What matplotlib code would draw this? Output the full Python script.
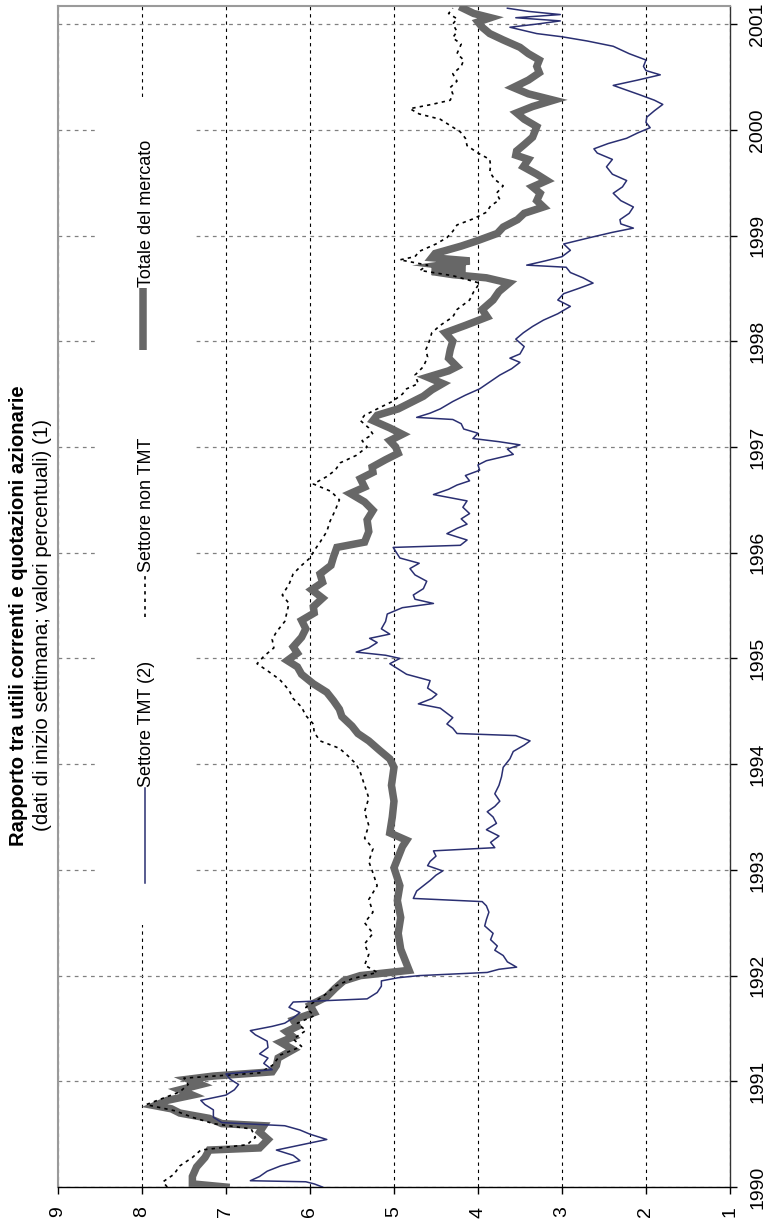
import matplotlib
matplotlib.use("Agg")
import matplotlib.pyplot as plt
from matplotlib.lines import Line2D
from matplotlib.patches import Rectangle

plt.rcParams['font.family'] = ['Liberation Sans', 'DejaVu Sans']
narrow = ['Liberation Sans Narrow', 'Liberation Sans']

# --- data (decimal years, percent values) ---
tot_t = [1990.00, 1990.03, 1990.10, 1990.19, 1990.28, 1990.35, 1990.37, 1990.45, 1990.52, 1990.58,
         1990.60, 1990.65, 1990.70, 1990.74, 1990.77, 1990.82, 1990.87, 1990.92, 1990.97, 1991.02,
         1991.05, 1991.09, 1991.15, 1991.22, 1991.30, 1991.37, 1991.42, 1991.47, 1991.52, 1991.58,
         1991.65, 1991.72, 1991.80, 1991.88, 1991.95, 1992.00, 1992.05, 1992.15, 1992.25, 1992.40,
         1992.55, 1992.71, 1992.85, 1993.02, 1993.12, 1993.22, 1993.28, 1993.35, 1993.50, 1993.65,
         1993.80, 1993.97, 1994.05, 1994.13, 1994.22, 1994.29, 1994.36, 1994.45, 1994.52, 1994.60,
         1994.68, 1994.76, 1994.85, 1994.92, 1994.98, 1995.05, 1995.11, 1995.20, 1995.28, 1995.36,
         1995.43, 1995.49, 1995.57, 1995.65, 1995.72, 1995.80, 1995.88, 1995.96, 1996.05, 1996.10,
         1996.20, 1996.31, 1996.40, 1996.48, 1996.56, 1996.62, 1996.70, 1996.76, 1996.81, 1996.88,
         1996.94, 1997.00, 1997.06, 1997.12, 1997.18, 1997.25, 1997.30, 1997.36, 1997.42, 1997.48,
         1997.54, 1997.60, 1997.66, 1997.72, 1997.76, 1997.84, 1997.92, 1998.00, 1998.08, 1998.15,
         1998.23, 1998.30, 1998.39, 1998.47, 1998.55, 1998.60, 1998.63, 1998.66, 1998.69, 1998.72,
         1998.76, 1998.79, 1998.83, 1998.90, 1998.95, 1999.02, 1999.08, 1999.15, 1999.21, 1999.27,
         1999.33, 1999.40, 1999.46, 1999.52, 1999.58, 1999.65, 1999.72, 1999.76, 1999.80, 1999.86,
         1999.93, 2000.03, 2000.10, 2000.16, 2000.22, 2000.28, 2000.34, 2000.40, 2000.47, 2000.54,
         2000.60, 2000.66, 2000.72, 2000.78, 2000.85, 2000.91, 2000.97, 2001.02, 2001.06, 2001.10,
         2001.15]
tot_v = [7.00, 7.40, 7.40, 7.35, 7.25, 7.20, 6.60, 6.50, 6.60, 6.55,
         7.05, 7.20, 7.55, 7.65, 7.85, 7.70, 7.40, 7.55, 7.30, 7.45,
         7.15, 6.45, 6.40, 6.38, 6.20, 6.35, 6.20, 6.28, 6.15, 6.20,
         5.95, 6.00, 5.80, 5.70, 5.60, 5.40, 4.82, 4.87, 4.92, 4.95,
         4.92, 4.96, 4.93, 5.00, 4.95, 4.90, 4.85, 5.05, 5.02, 5.00,
         5.03, 5.00, 5.05, 5.17, 5.30, 5.43, 5.50, 5.62, 5.65, 5.72,
         5.80, 5.96, 6.10, 6.15, 6.27, 6.15, 6.20, 6.10, 6.05, 6.10,
         5.95, 5.96, 5.85, 5.98, 5.85, 5.88, 5.75, 5.72, 5.68, 5.35,
         5.30, 5.32, 5.25, 5.35, 5.52, 5.35, 5.40, 5.25, 5.26, 5.10,
         4.95, 4.98, 5.05, 4.90, 5.05, 5.25, 5.20, 4.95, 4.80, 4.65,
         4.55, 4.42, 4.60, 4.35, 4.25, 4.35, 4.33, 4.30, 4.39, 4.15,
         3.89, 3.95, 3.82, 3.75, 3.63, 3.90, 4.30, 4.55, 4.15, 4.45,
         4.10, 4.55, 4.51, 4.20, 4.01, 3.77, 3.70, 3.53, 3.45, 3.22,
         3.30, 3.26, 3.35, 3.18, 3.30, 3.46, 3.40, 3.55, 3.54, 3.45,
         3.35, 3.30, 3.45, 3.54, 3.35, 3.10, 3.40, 3.58, 3.40, 3.27,
         3.30, 3.27, 3.40, 3.50, 3.70, 3.86, 3.95, 4.00, 3.85, 4.05,
         4.18]

non_t = [1990.00, 1990.05, 1990.12, 1990.20, 1990.28, 1990.35, 1990.40, 1990.47, 1990.55, 1990.60,
         1990.66, 1990.72, 1990.78, 1990.84, 1990.90, 1990.97, 1991.03, 1991.08, 1991.15, 1991.25,
         1991.33, 1991.40, 1991.48, 1991.55, 1991.62, 1991.70, 1991.80, 1991.90, 1991.97, 1992.03,
         1992.10, 1992.20, 1992.30, 1992.40, 1992.50, 1992.60, 1992.72, 1992.85, 1992.97, 1993.08,
         1993.20, 1993.30, 1993.42, 1993.55, 1993.68, 1993.80, 1993.92, 1994.00, 1994.08, 1994.15,
         1994.22, 1994.30, 1994.38, 1994.46, 1994.54, 1994.62, 1994.70, 1994.80, 1994.88, 1994.95,
         1995.02, 1995.10, 1995.18, 1995.25, 1995.35, 1995.45, 1995.52, 1995.60, 1995.70, 1995.80,
         1995.88, 1995.95, 1996.02, 1996.10, 1996.20, 1996.30, 1996.40, 1996.50, 1996.58, 1996.65,
         1996.72, 1996.78, 1996.85, 1996.92, 1997.00, 1997.06, 1997.12, 1997.18, 1997.25, 1997.30,
         1997.38, 1997.43, 1997.50, 1997.55, 1997.60, 1997.68, 1997.76, 1997.85, 1997.92, 1998.00,
         1998.08, 1998.15, 1998.23, 1998.30, 1998.39, 1998.47, 1998.55, 1998.62, 1998.67, 1998.72,
         1998.77, 1998.80, 1998.85, 1998.92, 1998.98, 1999.04, 1999.10, 1999.16, 1999.22, 1999.28,
         1999.34, 1999.40, 1999.47, 1999.53, 1999.60, 1999.66, 1999.72, 1999.78, 1999.85, 1999.92,
         1999.98, 2000.05, 2000.10, 2000.15, 2000.20, 2000.24, 2000.28, 2000.34, 2000.40, 2000.46,
         2000.53, 2000.60, 2000.66, 2000.72, 2000.81, 2000.87, 2000.93, 2001.00, 2001.05, 2001.10,
         2001.15]
non_v = [7.70, 7.75, 7.62, 7.55, 7.40, 7.30, 6.75, 6.65, 6.70, 7.15,
         7.40, 7.60, 7.95, 7.75, 7.55, 7.45, 7.50, 6.60, 6.45, 6.35,
         6.10, 6.20, 6.05, 6.15, 5.95, 6.05, 5.85, 5.70, 5.50, 5.20,
         5.35, 5.30, 5.35, 5.25, 5.35, 5.25, 5.30, 5.20, 5.25, 5.30,
         5.25, 5.35, 5.30, 5.35, 5.30, 5.35, 5.40, 5.45, 5.55, 5.65,
         5.88, 5.95, 5.96, 6.05, 6.10, 6.20, 6.25, 6.36, 6.50, 6.63,
         6.55, 6.43, 6.45, 6.40, 6.30, 6.27, 6.25, 6.33, 6.25, 6.20,
         6.10, 6.00, 5.95, 5.88, 5.80, 5.76, 5.70, 5.65, 5.75, 5.96,
         5.80, 5.70, 5.64, 5.45, 5.32, 5.38, 5.25, 5.30, 5.40, 5.35,
         5.15, 5.02, 4.90, 4.85, 4.71, 4.75, 4.65, 4.60, 4.62, 4.58,
         4.55, 4.45, 4.30, 4.25, 4.10, 4.05, 3.98, 4.30, 4.69, 4.60,
         4.93, 4.75, 4.70, 4.50, 4.37, 4.30, 4.25, 4.05, 3.90, 3.85,
         3.74, 3.78, 3.70, 3.80, 3.86, 3.85, 3.86, 4.00, 4.13, 4.15,
         4.21, 4.35, 4.45, 4.70, 4.81, 4.55, 4.33, 4.30, 4.33, 4.25,
         4.30, 4.20, 4.17, 4.25, 4.20, 4.30, 4.25, 4.30, 4.25, 4.35,
         4.30]

tmt_t = [1990.00, 1990.03, 1990.05, 1990.06, 1990.10, 1990.15, 1990.20, 1990.25, 1990.30, 1990.35,
         1990.40, 1990.45, 1990.50, 1990.54, 1990.58, 1990.61, 1990.66, 1990.73, 1990.78, 1990.82,
         1990.87, 1990.92, 1990.97, 1991.02, 1991.07, 1991.11, 1991.17, 1991.22, 1991.26, 1991.32,
         1991.38, 1991.44, 1991.48, 1991.52, 1991.55, 1991.60, 1991.65, 1991.70, 1991.75, 1991.78,
         1991.84, 1991.90, 1991.95, 1991.98, 1992.00, 1992.03, 1992.06, 1992.08, 1992.13, 1992.19,
         1992.24, 1992.28, 1992.34, 1992.40, 1992.47, 1992.53, 1992.60, 1992.66, 1992.70, 1992.73,
         1992.80, 1992.85, 1992.90, 1992.95, 1992.99, 1993.04, 1993.08, 1993.13, 1993.18, 1993.21,
         1993.26, 1993.32, 1993.38, 1993.44, 1993.50, 1993.55, 1993.60, 1993.65, 1993.72, 1993.80,
         1993.88, 1993.97, 1994.05, 1994.12, 1994.18, 1994.22, 1994.27, 1994.29, 1994.34, 1994.38,
         1994.44, 1994.50, 1994.53, 1994.57, 1994.62, 1994.66, 1994.72, 1994.79, 1994.85, 1994.90,
         1994.95, 1995.00, 1995.03, 1995.06, 1995.10, 1995.15, 1995.19, 1995.23, 1995.28, 1995.35,
         1995.42, 1995.48, 1995.52, 1995.56, 1995.60, 1995.66, 1995.73, 1995.79, 1995.85, 1995.90,
         1995.95, 1996.00, 1996.05, 1996.07, 1996.12, 1996.18, 1996.23, 1996.27, 1996.32, 1996.37,
         1996.43, 1996.49, 1996.55, 1996.60, 1996.64, 1996.68, 1996.73, 1996.78, 1996.83, 1996.87,
         1996.93, 1996.98, 1997.02, 1997.05, 1997.08, 1997.13, 1997.17, 1997.22, 1997.26, 1997.28,
         1997.32, 1997.36, 1997.43, 1997.49, 1997.55, 1997.62, 1997.68, 1997.74, 1997.80, 1997.84,
         1997.88, 1997.95, 1998.02, 1998.08, 1998.14, 1998.20, 1998.26, 1998.33, 1998.39, 1998.45,
         1998.50, 1998.55, 1998.60, 1998.65, 1998.70, 1998.72, 1998.76, 1998.80, 1998.86, 1998.92,
         1998.98, 1999.03, 1999.07, 1999.11, 1999.15, 1999.21, 1999.27, 1999.33, 1999.40, 1999.46,
         1999.52, 1999.58, 1999.65, 1999.72, 1999.78, 1999.82, 1999.87, 1999.92, 1999.97, 2000.02,
         2000.07, 2000.12, 2000.18, 2000.24, 2000.28, 2000.33, 2000.38, 2000.42, 2000.47, 2000.52,
         2000.56, 2000.60, 2000.66, 2000.72, 2000.79, 2000.84, 2000.88, 2000.91, 2000.97, 2001.00,
         2001.03, 2001.06, 2001.09, 2001.12, 2001.15]
tmt_v = [5.85, 5.95, 6.05, 6.71, 6.60, 6.51, 6.35, 6.12, 6.20, 6.40,
         6.10, 5.80, 6.00, 6.12, 6.30, 7.05, 7.15, 7.15, 7.25, 7.30,
         7.00, 6.90, 6.85, 6.95, 7.00, 6.45, 6.55, 6.50, 6.60, 6.50,
         6.51, 6.65, 6.71, 6.45, 6.30, 6.20, 6.12, 6.25, 6.20, 5.32,
         5.20, 5.15, 5.15, 4.95, 4.70, 3.89, 3.75, 3.54, 3.65, 3.70,
         3.80, 3.77, 3.85, 3.82, 3.92, 3.90, 3.87, 3.90, 3.95, 4.77,
         4.73, 4.65, 4.57, 4.50, 4.42, 4.60, 4.57, 4.50, 4.53, 3.80,
         3.85, 3.75, 3.90, 3.78, 3.82, 3.89, 3.80, 3.74, 3.80, 3.75,
         3.72, 3.70, 3.62, 3.58, 3.45, 3.38, 3.55, 4.25, 4.30, 4.37,
         4.30, 4.40, 4.45, 4.71, 4.55, 4.49, 4.60, 4.57, 4.85, 4.95,
         5.05, 4.93, 5.10, 5.45, 5.30, 5.20, 5.29, 5.05, 5.15, 5.10,
         5.08, 4.90, 4.53, 4.75, 4.77, 4.65, 4.61, 4.75, 4.81, 4.70,
         4.93, 4.97, 5.01, 4.21, 4.13, 4.37, 4.25, 4.13, 4.20, 4.10,
         4.18, 4.13, 4.53, 4.35, 4.25, 4.10, 4.15, 3.98, 4.00, 3.90,
         3.58, 3.65, 3.50, 3.75, 4.06, 4.00, 4.17, 4.20, 4.30, 4.73,
         4.57, 4.45, 4.30, 4.15, 3.98, 3.85, 3.74, 3.60, 3.50, 3.62,
         3.50, 3.45, 3.55, 3.46, 3.35, 3.22, 3.05, 2.90, 3.05, 2.98,
         2.80, 2.63, 2.75, 2.90, 2.95, 3.42, 3.20, 3.00, 2.90, 2.98,
         2.67, 2.40, 2.15, 2.30, 2.31, 2.20, 2.15, 2.30, 2.39, 2.28,
         2.23, 2.40, 2.47, 2.40, 2.58, 2.62, 2.45, 2.23, 2.10, 1.95,
         2.00, 1.99, 1.90, 1.80, 1.90, 2.07, 2.25, 2.39, 2.10, 1.83,
         2.00, 2.03, 2.00, 2.20, 2.39, 2.70, 3.00, 3.30, 3.62, 3.30,
         3.02, 3.55, 3.02, 3.40, 3.65]

years = list(range(1990, 2002))
values = list(range(1, 10))
labels = ["Settore TMT (2)", "Settore non TMT", "Totale del mercato"]
title = "Rapporto tra utili correnti e quotazioni azionarie"
subtitle = "(dati di inizio settimana; valori percentuali) (1)"

# --- figure: chart drawn rotated 90 degrees (time runs upward) ---
fig = plt.figure(figsize=(7.68, 12.2), dpi=100)
ax = fig.add_axes([0.0755, 0.027, 0.875, 0.968])

col_tot = '#676767'
col_tmt = '#2a2f72'

ax.plot(tot_v, tot_t, color=col_tot, lw=5.4, solid_joinstyle='miter', zorder=3)
ax.plot(non_v, non_t, color='black', lw=1.2, linestyle=(0, (2, 2.5)), zorder=4)
ax.plot(tmt_v, tmt_t, color=col_tmt, lw=1.1, zorder=5)

ax.set_xlim(9, 1)
ax.set_ylim(1990, 2001.17)
ax.set_xticks(values)
ax.set_yticks(years)
ax.set_xticklabels([str(v) for v in values], rotation=90, fontsize=14, family=narrow)
ax.set_yticklabels([str(y) for y in years], rotation=90, fontsize=14, va='center', family=narrow)
ax.yaxis.tick_right()
ax.tick_params(axis='x', direction='out', length=5, width=1, pad=9, colors='black')
ax.tick_params(axis='y', direction='out', length=5, width=1, pad=9, colors='black')

ax.set_axisbelow(True)
ax.xaxis.grid(True, color='black', linestyle=(0, (3, 3.5)), linewidth=0.8)
ax.yaxis.grid(True, color='#808080', linestyle=(0, (3, 3.5)), linewidth=0.9)

for side in ['left', 'top']:
    ax.spines[side].set_color('#9a9a9a')
    ax.spines[side].set_linewidth(1.5)
ax.spines['bottom'].set_color('black')
ax.spines['right'].set_color('#333333')
ax.spines['bottom'].set_linewidth(1.0)
ax.spines['right'].set_linewidth(1.0)

# --- legend (hand-placed, rotated) ---
ax.add_patch(Rectangle((0.055, 0.222), 0.15, 0.701, transform=ax.transAxes,
                       facecolor='white', edgecolor='none', zorder=1))
lx = 0.1295
ax.add_line(Line2D([lx, lx], [0.2574, 0.338], transform=ax.transAxes,
                   color=col_tmt, lw=1.1, zorder=6))
ax.text(lx + 0.002, 0.339, labels[0], transform=ax.transAxes, rotation=90,
        ha='center', va='bottom', fontsize=13, zorder=6)
ax.add_line(Line2D([lx, lx], [0.4826, 0.52], transform=ax.transAxes,
                   color='black', lw=1.2, linestyle=(0, (2, 2.5)), zorder=6))
ax.text(lx + 0.002, 0.521, labels[1], transform=ax.transAxes, rotation=90,
        ha='center', va='bottom', fontsize=13, zorder=6)
ax.add_line(Line2D([lx - 0.003, lx - 0.003], [0.709, 0.761], transform=ax.transAxes,
                   color=col_tot, lw=5.4, solid_capstyle='butt', zorder=6))
ax.text(lx + 0.002, 0.762, labels[2], transform=ax.transAxes, rotation=90,
        ha='center', va='bottom', fontsize=13, zorder=6)

# --- titles ---
fig.text(0.024, 0.495, title, rotation=90, ha='center', va='center',
         fontsize=14.6, fontweight='bold')
fig.text(0.055, 0.488, subtitle, rotation=90, ha='center', va='center',
         fontsize=14.8)

fig.savefig('out.png', dpi=100)
